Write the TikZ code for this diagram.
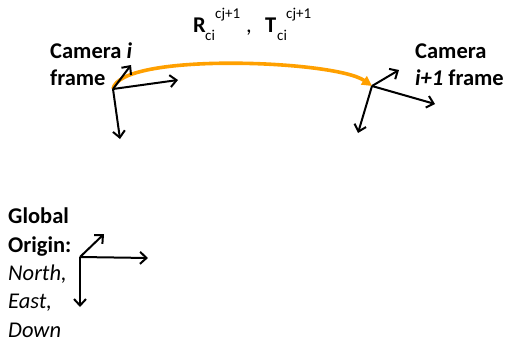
\documentclass[tikz,border=0pt]{standalone}
\usepackage{fontspec}
\setmainfont{Carlito}
\usetikzlibrary{arrows.meta}
\definecolor{arcorange}{RGB}{255,160,0}
\tikzset{
  axis/.style={line width=2pt, -{Straight Barb[length=6.5pt,width=12pt,line width=2pt]}},
  lbl/.style={anchor=base west, inner sep=0pt, font=\fontsize{22.5}{26}\selectfont},
  small/.style={anchor=base west, inner sep=0pt, font=\fontsize{15}{17}\selectfont},
  motion/.style={line width=3.6pt, arcorange, -{Triangle[length=10pt,width=10pt]}}
}
\begin{document}
\begin{tikzpicture}[x=1pt,y=-1pt]
\useasboundingbox (0,0) rectangle (507,343);
% Camera i
\coordinate (ci) at (113,89);
\coordinate (ciA) at (131,65);
\coordinate (ciB) at (178,80);
\coordinate (ciC) at (120,139);
% Camera i+1
\coordinate (cn) at (372,86);
\coordinate (cnA) at (399,70);
\coordinate (cnB) at (435,104);
\coordinate (cnC) at (358,133);
% Global
\coordinate (g) at (80,257);
\coordinate (gA) at (104,234);
\coordinate (gB) at (148,258);
\coordinate (gC) at (80,307);

\draw[motion] (ci) .. controls (120,52) and (335,60) .. (cn);

\foreach \o/\t in {ci/ciA,ci/ciB,ci/ciC,cn/cnA,cn/cnB,cn/cnC,g/gA,g/gB,g/gC}
  \draw[axis] (\o) -- (\t);

\node[lbl] (t1) at (50,58) {\bfseries Camera \textit{i}};
\node[lbl] (t2) at (50,85) {\bfseries frame};
\node[lbl] (t3) at (415,58) {\bfseries Camera};
\node[lbl] (t4) at (415,85) {\bfseries\textit{i+1} frame};

\node[lbl] (g1) at (8,223) {\bfseries Global};
\node[lbl] (g2) at (8,252) {\bfseries Origin:};
\node[lbl] (g3) at (8,280) {\itshape North,};
\node[lbl] (g4) at (8,308) {\itshape East,};
\node[lbl] (g5) at (8,337) {\itshape Down};

\node[lbl] (R) at (193,32) {\bfseries R};
\node[small] (Rsub) at (205,40) {ci};
\node[small] (Rsup) at (215,18) {cj+1};
\node[lbl] (comma) at (246,32) {,};
\node[lbl] (T) at (265,32) {\bfseries T};
\node[small] (Tsub) at (277,40) {ci};
\node[small] (Tsup) at (286,18) {cj+1};
\end{tikzpicture}
\end{document}
